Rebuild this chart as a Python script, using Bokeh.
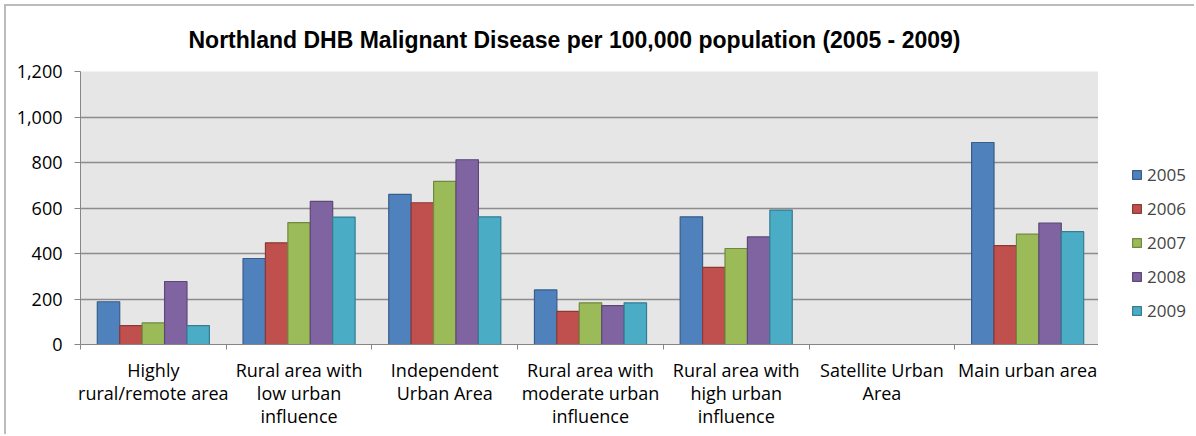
from bokeh.plotting import figure
from bokeh.layouts import row
from bokeh.models import (ColumnDataSource, Range1d, FixedTicker, NumeralTickFormatter,
                          Legend, LegendItem)
from bokeh.embed import file_html
from bokeh.resources import INLINE

categories = [
    "Highly\nrural/remote area",
    "Rural area with\nlow urban\ninfluence",
    "Independent\nUrban Area",
    "Rural area with\nmoderate urban\ninfluence",
    "Rural area with\nhigh urban\ninfluence",
    "Satellite Urban\nArea",
    "Main urban area",
]
years = ["2005", "2006", "2007", "2008", "2009"]
v2005 = [188, 378, 660, 240, 561, None, 888]
v2006 = [83, 447, 623, 146, 339, None, 435]
v2007 = [95, 536, 717, 183, 422, None, 485]
v2008 = [277, 629, 812, 171, 473, None, 534]
v2009 = [83, 560, 561, 183, 591, None, 496]
series = [v2005, v2006, v2007, v2008, v2009]

fills = ["#4F81BD", "#C0504D", "#9BBB59", "#8064A2", "#4BACC6"]
lines = ["#385D8A", "#8C3836", "#71893F", "#5C4776", "#357D91"]

TICK_FONT = "Open Sans"
BORDER = "2px solid #bcbcbc"

p = figure(width=1094, height=430, output_backend="svg", toolbar_location=None,
           x_range=Range1d(0, len(categories)), y_range=Range1d(0, 1200),
           min_border_left=74, min_border_right=0, min_border_top=64, min_border_bottom=92,
           title="Northland DHB Malignant Disease per 100,000 population (2005 - 2009)")
p.styles = {"margin-left": "4px", "margin-top": "4px",
            "border-left": BORDER, "border-top": BORDER}

p.title.align = "left"
p.title.offset = 108
p.title.text_font = "Liberation Sans"
p.title.text_font_style = "bold"
p.title.text_font_size = "23px"
p.title.text_color = "#000000"
p.title.standoff = 37

p.background_fill_color = "#E6E6E6"
p.border_fill_color = "white"
p.outline_line_color = None

nbars = len(years)
bw = 1.0 / (nbars + 1.5)
centers = [i + 0.5 for i in range(len(categories))]

sources = []
for k, (yr, vals) in enumerate(zip(years, series)):
    xs = [c + (k - (nbars - 1) / 2) * bw for c in centers]
    tops = [float("nan") if v is None else v for v in vals]
    src = ColumnDataSource(dict(x=xs, top=tops))
    sources.append(src)
    p.vbar(x="x", top="top", bottom=0, width=bw, source=src,
           fill_color=fills[k], line_color=lines[k], line_width=1.2)

# x axis
xa = p.xaxis[0]
xa.ticker = FixedTicker(ticks=centers, minor_ticks=list(range(len(categories) + 1)))
xa.major_label_overrides = {c: lab for c, lab in zip(centers, categories)}
xa.major_tick_line_color = None
xa.major_tick_out = 0
xa.major_tick_in = 0
xa.minor_tick_line_color = "#868686"
xa.minor_tick_out = 5
xa.minor_tick_in = 0
xa.axis_line_color = "#868686"
xa.major_label_text_font = TICK_FONT
xa.major_label_text_font_size = "18px"
xa.major_label_text_color = "#000000"
xa.major_label_text_line_height = 0.97
xa.major_label_standoff = 8

# y axis
ya = p.yaxis[0]
ya.ticker = FixedTicker(ticks=list(range(0, 1201, 200)))
ya.formatter = NumeralTickFormatter(format="0,0")
ya.axis_line_color = "#868686"
ya.major_tick_line_color = "#868686"
ya.major_tick_out = 6
ya.major_tick_in = 0
ya.minor_tick_line_color = None
ya.major_label_text_font = TICK_FONT
ya.major_label_text_font_size = "18px"
ya.major_label_text_color = "#000000"
ya.major_label_standoff = 12

p.xgrid.grid_line_color = None
p.ygrid.grid_line_color = "#8C8C8C"
p.ygrid.grid_line_width = 1.5

# legend panel (separate narrow canvas to the right of the plot area)
lf = figure(width=96, height=430, output_backend="svg", toolbar_location=None,
            x_range=Range1d(0, 1), y_range=Range1d(0, 1),
            x_axis_location=None, y_axis_location=None,
            min_border_left=0, min_border_right=0, min_border_top=0, min_border_bottom=0)
lf.styles = {"margin-top": "4px", "border-top": BORDER}
lf.outline_line_color = None
lf.background_fill_color = "white"
lf.border_fill_color = "white"
lf.grid.grid_line_color = None

items = []
for k, yr in enumerate(years):
    # swatch renderer shares the series data but is hidden (only its legend glyph shows)
    sw = lf.vbar(x="x", top="top", width=bw, source=sources[k],
                 fill_color=fills[k], line_color=lines[k], line_width=1.2, visible=False)
    items.append(LegendItem(label=yr, renderers=[sw]))

legend = Legend(items=items, location=(33, 22), orientation="vertical",
                glyph_width=11, glyph_height=11, label_height=23, spacing=11,
                label_text_font=TICK_FONT, label_text_font_size="17px",
                label_standoff=5, padding=0, margin=0,
                inactive_fill_alpha=0,
                border_line_color=None, background_fill_alpha=0)
lf.add_layout(legend)

layout = row(p, lf)
open("out.html", "w").write(file_html(layout, INLINE))
